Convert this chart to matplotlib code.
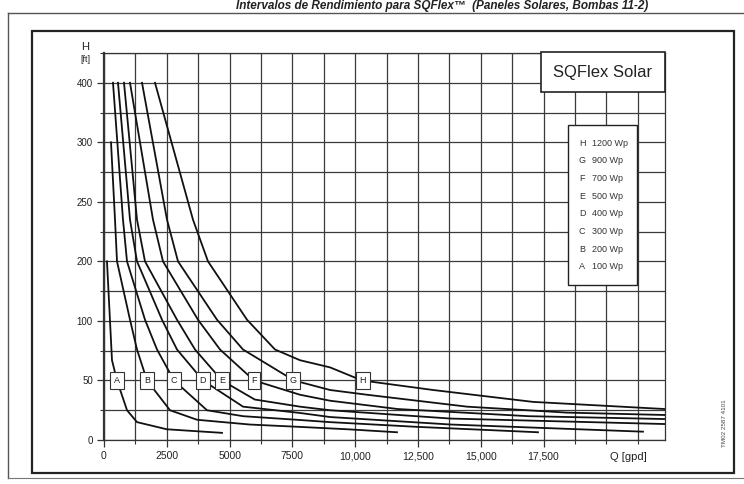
import matplotlib
matplotlib.use("Agg")
import matplotlib.pyplot as plt
from matplotlib.patches import Rectangle
from matplotlib.ticker import MultipleLocator

plt.rcParams['font.family'] = ['Liberation Sans', 'DejaVu Sans']

# curves: Q [gpd] and H (in axis units)
curves = {
    "A": ([119, 318, 517, 916, 1314, 2500, 4698],
          [150, 67, 50, 25, 15, 9, 6]),
    "B": ([279, 438, 518, 1035, 1314, 1712, 2627, 3702, 5800, 7803, 9700, 11664],
          [250, 185, 150, 101, 76, 50, 25, 17, 13, 11, 9, 6.5]),
    "C": ([358, 756, 916, 1632, 2110, 2787, 4100, 5534, 7803, 8997, 12500, 17278],
          [300, 185, 150, 101, 76, 50, 25, 20, 16.8, 15, 11, 6.5]),
    "D": ([557, 1035, 1314, 2309, 2906, 3941, 5534, 7803, 8997, 13800, 21458],
          [300, 185, 150, 101, 76, 50, 28, 22.7, 19.3, 13, 7]),
    "E": ([796, 1314, 1632, 2906, 3623, 4697, 6000, 7803, 8997, 13800, 22334],
          [300, 185, 150, 101, 76, 50, 34, 28, 25, 18, 13.4]),
    "F": ([1035, 1951, 2349, 3742, 4618, 5972, 7803, 8997, 11700, 16900, 22334],
          [300, 185, 150, 101, 76, 50, 38, 33, 26, 20, 17.6]),
    "G": ([1513, 2508, 2946, 4499, 5534, 7564, 8997, 10470, 14451, 18432, 22334],
          [300, 185, 150, 101, 76, 50, 42, 38, 28, 23, 21]),
    "H": ([2030, 3543, 4140, 5693, 6808, 7803, 8997, 10271, 13098, 17080, 22334],
          [300, 185, 150, 101, 76, 67, 61, 50, 42, 32, 26]),
}
box_q = {"A": 517, "B": 1712, "C": 2787, "D": 3941, "E": 4697, "F": 5972, "G": 7524, "H": 10310}
legend_rows = [("H", "1200 Wp"), ("G", "900 Wp"), ("F", "700 Wp"), ("E", "500 Wp"),
               ("D", "400 Wp"), ("C", "300 Wp"), ("B", "200 Wp"), ("A", "100 Wp")]

x_ticks = [0, 2500, 5000, 7500, 10000, 12500, 15000, 17500]
x_labels = ["0", "2500", "5000", "7500", "10,000", "12,500", "15,000", "17,500"]
y_ticks = [0, 50, 100, 150, 200, 250, 300]
y_labels = ["0", "50", "100", "200", "250", "300", "400"]

W, H = 744, 484
fig = plt.figure(figsize=(W / 100, H / 100), dpi=100)

# background layer in pixel coordinates
bg = fig.add_axes([0, 0, 1, 1], zorder=0)
bg.set_xlim(0, W)
bg.set_ylim(H, 0)
bg.axis("off")
bg.plot([8, W], [13, 13], color="#555", lw=1.0)
bg.plot([8, 8], [13, 478], color="#555", lw=1.0)
bg.plot([8, W], [478, 478], color="#777", lw=0.8)
bg.add_patch(Rectangle((32, 31), 702, 442, fill=False, ec="#222", lw=1.6))
bg.text(442, 0.5, "Intervalos de Rendimiento para SQFlex™  (Paneles Solares, Bombas 11-2)",
        ha="center", va="top", fontsize=8.5, fontweight="bold", style="italic", color="#222")
bg.text(85, 47, "H", ha="center", va="center", fontsize=8, color="#222")
bg.text(85, 60, "[ft]", ha="center", va="center", fontsize=6.5, color="#222")
bg.text(725, 423, "TM02 2587 4101", rotation=90, ha="center", va="center", fontsize=4.5, color="#444")

# main chart
left, right, top, bottom = 104, 665, 53, 440
ax = fig.add_axes([left / W, 1 - bottom / H, (right - left) / W, (bottom - top) / H], zorder=1)
ax.set_xlim(0, 22334)
ax.set_ylim(0, 325)
ax.patch.set_alpha(0)

ax.xaxis.set_major_locator(MultipleLocator(2500))
ax.xaxis.set_minor_locator(MultipleLocator(1250))
ax.yaxis.set_major_locator(MultipleLocator(50))
ax.yaxis.set_minor_locator(MultipleLocator(25))
ax.set_xticks(x_ticks, x_labels)
ax.set_yticks(y_ticks, y_labels)
ax.grid(which="both", color="#3a3a3a", lw=0.9)
ax.set_axisbelow(True)
ax.tick_params(axis="both", which="major", direction="out", length=5, width=0.9,
               color="#333", labelsize=7.5, labelcolor="#222", pad=3)
ax.tick_params(axis="y", which="major", labelsize=7)
ax.tick_params(axis="both", which="minor", direction="out", length=3, width=0.8, color="#333")
for s in ax.spines.values():
    s.set_color("#333")
    s.set_linewidth(0.9)
ax.spines["left"].set_linewidth(1.6)

for name, (q, h) in curves.items():
    ax.plot(q, h, color="#111", lw=1.3, zorder=3)

for name, q in box_q.items():
    ax.text(q, 50, name, ha="center", va="center", fontsize=6.5, color="#222", zorder=4,
            bbox=dict(boxstyle="square,pad=0.4", fc="white", ec="#333", lw=0.8))

ax.text(0.935, -0.045, "Q [gpd]", transform=ax.transAxes, ha="center", va="center",
        fontsize=8, color="#222")

# overlay boxes covering the grid
ov = fig.add_axes([0, 0, 1, 1], zorder=2)
ov.set_xlim(0, W)
ov.set_ylim(H, 0)
ov.axis("off")
ov.patch.set_alpha(0)
ov.add_patch(Rectangle((541, 52), 124, 40, fc="white", ec="#222", lw=1.2))
ov.text(603, 72, "SQFlex Solar", ha="center", va="center", fontsize=12, color="#222")
ov.add_patch(Rectangle((568, 125), 69, 160, fc="white", ec="#222", lw=1.0))
for i, (letter, label) in enumerate(legend_rows):
    y = 143 + i * 17.7
    ov.text(582, y, letter, ha="center", va="center", fontsize=6.5, color="#333")
    ov.text(592, y, label, ha="left", va="center", fontsize=6.5, color="#333")

fig.savefig("out.png", dpi=100)
